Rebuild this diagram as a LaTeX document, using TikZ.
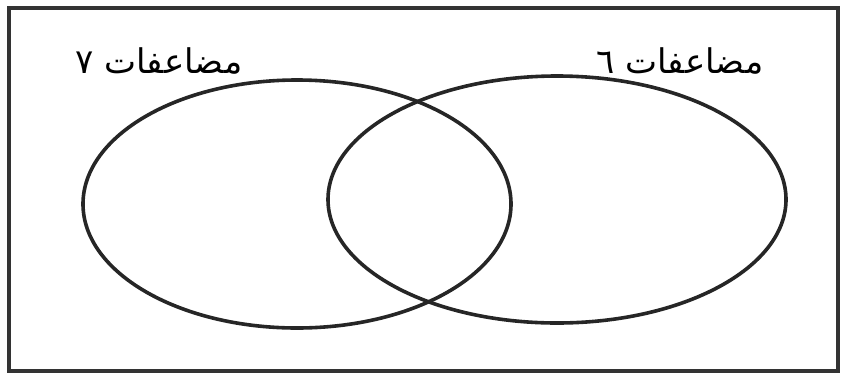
\documentclass[tikz,border=0pt]{standalone}
\usepackage{fontspec}
\newfontfamily\arabicfont[Script=Arabic]{DejaVu Sans}
\TeXXeTstate=1
\usetikzlibrary{shapes.geometric}
\begin{document}
\begin{tikzpicture}[x=1pt,y=-1pt,
  setc/.style={draw=black!85, line width=3.6pt, ellipse, inner sep=0pt},
  lbl/.style={inner sep=0pt, font=\arabicfont\fontsize{34}{40}\selectfont, text=black}]
\useasboundingbox (0,0) rectangle (846,376);
\draw[draw=black!80, line width=3.8pt] (9,8) rectangle (838,371);
\node[setc, minimum width=428pt, minimum height=248pt] (A) at (297,204) {};
\node[setc, minimum width=458pt, minimum height=247pt] (B) at (557,199.5) {};
\node[lbl] (LA) at (159,61) {\beginR مضاعفات ٧\endR};
\node[lbl] (LB) at (680,61) {\beginR مضاعفات ٦\endR};
\end{tikzpicture}
\end{document}
